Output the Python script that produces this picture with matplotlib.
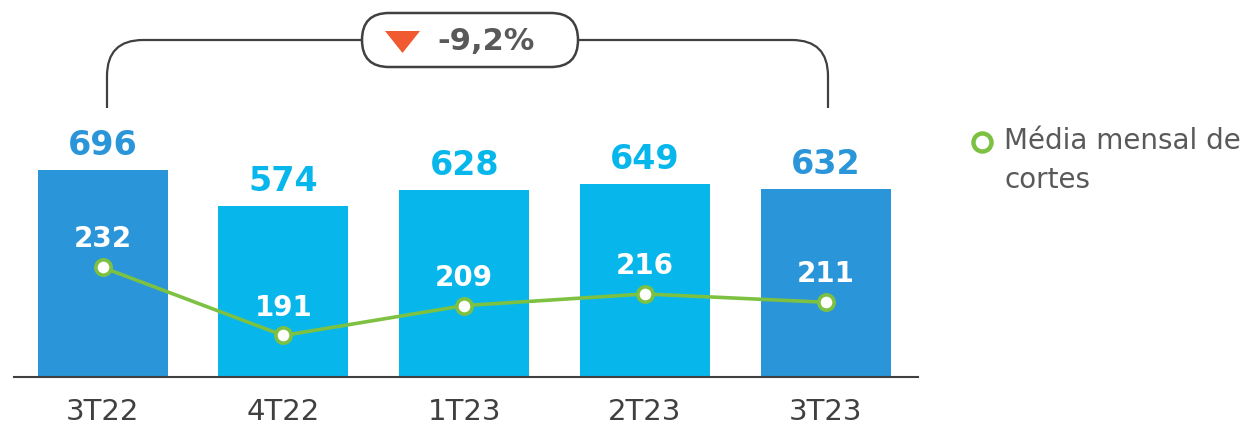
import matplotlib
matplotlib.use("Agg")
from matplotlib import pyplot as plt
from matplotlib.path import Path
from matplotlib.patches import PathPatch, FancyBboxPatch, Polygon
from matplotlib.lines import Line2D

quarters = ["3T22", "4T22", "1T23", "2T23", "3T23"]
totals = [696, 574, 628, 649, 632]
monthly = [232, 191, 209, 216, 211]
change_label = "-9,2%"
legend_label = "Média mensal de\ncortes"

dark_blue = "#2A95D8"
light_blue = "#07B7EC"
green = "#7DC142"
grey = "#595959"
bar_colors = [dark_blue, light_blue, light_blue, light_blue, dark_blue]

W, H = 1250, 429
fig = plt.figure(figsize=(W / 100, H / 100), dpi=100)

# main axes: baseline at y=377 px, x from 14 to 918 px
ax = fig.add_axes([14 / W, 1 - 377 / H, (918 - 14) / W, 377 / H])
x = list(range(len(quarters)))
ax.bar(x, totals, width=0.72, color=bar_colors, zorder=1)
ax.set_xlim(-0.49, 4.51)
ax.set_ylim(0, 1268)
for xi, v, c in zip(x, totals, bar_colors):
    ax.annotate(str(v), (xi, v), xytext=(0, 6), textcoords="offset points",
                ha="center", va="bottom", fontsize=24, fontweight="bold", color=c)

for s in ["top", "right", "left"]:
    ax.spines[s].set_visible(False)
ax.spines["bottom"].set_color("#404040")
ax.spines["bottom"].set_linewidth(1.5)
ax.set_yticks([])
ax.set_xticks(x)
ax.set_xticklabels(quarters, fontsize=21, color="#404040")
ax.tick_params(axis="x", length=0, pad=15)

ax2 = ax.twinx()
ax2.set_ylim(166, 393)
ax2.plot(x, monthly, color=green, lw=2.6, marker="o", markersize=11,
         markerfacecolor="white", markeredgecolor=green, markeredgewidth=2.6, zorder=3)
for xi, v in zip(x, monthly):
    ax2.annotate(str(v), (xi, v), xytext=(0, 10), textcoords="offset points",
                 ha="center", va="bottom", fontsize=20, fontweight="bold", color="white")
ax2.axis("off")

# overlay in pixel coordinates for the bracket and legend
ov = fig.add_axes([0, 0, 1, 1], zorder=5)
ov.set_xlim(0, W)
ov.set_ylim(H, 0)
ov.axis("off")
ov.patch.set_alpha(0)

r = 36
for x0, x1 in [(107, 362), (828, 578)]:
    d = r if x1 > x0 else -r
    verts = [(x0, 108), (x0, 40 + r), (x0, 40), (x0 + d, 40), (x1, 40)]
    codes = [Path.MOVETO, Path.LINETO, Path.CURVE3, Path.CURVE3, Path.LINETO]
    ov.add_patch(PathPatch(Path(verts, codes), fill=False, color="#404040", lw=1.6))

ov.add_patch(FancyBboxPatch((362, 13), 216, 54, boxstyle="round,pad=0,rounding_size=27",
                            fc="white", ec="#404040", lw=1.8))
ov.add_patch(Polygon([(385, 31), (420, 31), (402.5, 53)], closed=True,
                     fc="#F15A30", ec="none"))
ov.text(486, 41, change_label, ha="center", va="center", fontsize=22,
        fontweight="bold", color=grey)

ov.add_line(Line2D([982], [142], marker="o", markersize=13, markerfacecolor="white",
                   markeredgecolor=green, markeredgewidth=3.2, linestyle="none"))
ov.text(1004, 127, legend_label, ha="left", va="top", fontsize=20,
        color=grey, linespacing=1.5)

fig.savefig("out.png", dpi=100)
